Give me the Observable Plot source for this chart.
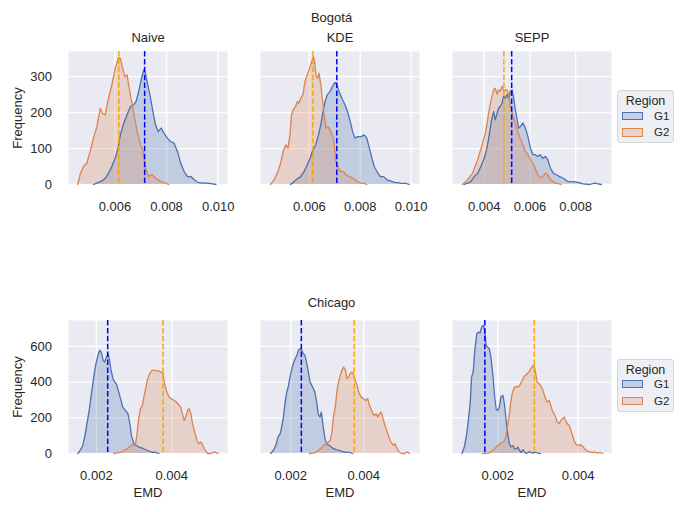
<!DOCTYPE html>
<html><head><meta charset="utf-8">
<script src="https://cdn.jsdelivr.net/npm/d3@7"></script>
<script src="https://cdn.jsdelivr.net/npm/@observablehq/plot@0.6"></script>
<style>
body{margin:0;background:#fff;}
#fig{position:relative;width:685px;height:512px;font-family:'Liberation Sans',Arial,sans-serif;color:#262626;overflow:hidden;background:#fff}
#fig svg{position:absolute;}
.legend{position:absolute;box-sizing:border-box;width:57px;height:53px;border:1px solid #d6d6d6;border-radius:3px;background:#eeeef5;}
.legend .t{position:absolute;left:0;width:100%;text-align:center;top:2px;font-size:12.5px;line-height:16px}
.legend .sw{position:absolute;left:3.5px;width:21.6px;height:8.3px;box-sizing:border-box;border:1.2px solid}
.legend .lb{position:absolute;left:36px;font-size:11.5px;line-height:14px}
</style></head>
<body><div id="fig"></div>
<script>
// ---- data ----
const methods = ["Naive", "KDE", "SEPP"];
const cities = ["Bogotá", "Chicago"];
const groups = ["G1", "G2"];

const bogNaiveG1 = [[0.00517,0],[0.0053,4],[0.00549,10],[0.00562,17],[0.00575,31],[0.00588,50],[0.00601,73],[0.00612,101],[0.00621,138],[0.00634,170],[0.00647,194],[0.0066,217],[0.00673,222],[0.00682,231],[0.00692,258],[0.00703,296],[0.00712,319],[0.00718,310],[0.00727,277],[0.00738,240],[0.00747,203],[0.00757,166],[0.00768,147],[0.00779,157],[0.0079,143],[0.00803,129],[0.00816,119],[0.00829,115],[0.00842,92],[0.00855,59],[0.00868,36],[0.00881,22],[0.00894,22],[0.00907,13],[0.0092,6],[0.00939,4],[0.00958,4],[0.00978,2],[0.00991,0]];
const bogNaiveG2 = [[0.00456,0],[0.00465,27],[0.00478,50],[0.00491,59],[0.00504,92],[0.00517,129],[0.0053,161],[0.00543,212],[0.00552,198],[0.00562,194],[0.00575,240],[0.00588,277],[0.00601,323],[0.00614,353],[0.00621,351],[0.0063,323],[0.00638,300],[0.00647,305],[0.00653,277],[0.00662,240],[0.00673,198],[0.00686,147],[0.00699,110],[0.00708,96],[0.00718,45],[0.00731,22],[0.00744,27],[0.00757,18],[0.00777,8],[0.00796,4],[0.00809,0]];
const bogKdeG1 = [[0.00526,0],[0.0054,8],[0.00553,16],[0.00566,22],[0.00579,36],[0.00592,55],[0.00603,73],[0.00612,92],[0.00625,110],[0.00636,138],[0.00645,166],[0.00654,203],[0.00662,231],[0.00671,250],[0.00682,259],[0.00691,273],[0.00701,284],[0.00708,277],[0.00717,259],[0.00728,240],[0.0074,222],[0.0075,203],[0.00761,175],[0.0077,147],[0.00779,129],[0.0079,133],[0.00803,133],[0.00816,138],[0.00826,129],[0.00836,101],[0.00846,73],[0.00855,50],[0.00866,36],[0.00879,22],[0.00892,22],[0.00905,13],[0.00918,10],[0.00934,6],[0.00947,5],[0.00963,3],[0.0098,3],[0.00993,0]];
const bogKdeG2 = [[0.00447,0],[0.00461,13],[0.00474,31],[0.00487,59],[0.00497,92],[0.00507,110],[0.00516,101],[0.00524,138],[0.0053,194],[0.00537,208],[0.00546,217],[0.00553,231],[0.00559,226],[0.00566,240],[0.00575,250],[0.00583,287],[0.00592,305],[0.00601,323],[0.00609,341],[0.00616,356],[0.00621,341],[0.00626,304],[0.00632,295],[0.00638,310],[0.00645,277],[0.00651,240],[0.00658,194],[0.00665,157],[0.00674,161],[0.00684,147],[0.00695,129],[0.00704,64],[0.00715,45],[0.00724,36],[0.00734,36],[0.00743,27],[0.00757,22],[0.0077,18],[0.00787,8],[0.00803,4],[0.00816,3],[0.00826,0]];
const bogSeppG1 = [[0.00312,0],[0.00327,4],[0.00341,8],[0.00356,22],[0.00371,31],[0.00385,50],[0.004,73],[0.00412,101],[0.00422,138],[0.00432,180],[0.00441,203],[0.00448,180],[0.00456,198],[0.00463,212],[0.0047,217],[0.00478,226],[0.00485,245],[0.00492,240],[0.005,250],[0.00507,240],[0.00514,259],[0.00522,263],[0.00529,240],[0.00536,208],[0.00544,180],[0.00551,157],[0.00558,161],[0.00569,171],[0.0058,157],[0.00591,134],[0.00602,101],[0.00613,83],[0.00624,83],[0.00634,78],[0.00645,83],[0.00656,73],[0.00668,78],[0.00678,69],[0.0069,45],[0.00703,31],[0.00715,27],[0.0073,22],[0.00744,18],[0.00766,8],[0.00788,8],[0.0081,6],[0.00832,2],[0.00862,0],[0.00884,4],[0.00898,2],[0.00913,0]];
const bogSeppG2 = [[0.00305,0],[0.00319,8],[0.00334,18],[0.00349,31],[0.0036,50],[0.00371,69],[0.00382,92],[0.00393,115],[0.00403,138],[0.00412,166],[0.00419,198],[0.00426,222],[0.00434,245],[0.00441,263],[0.00448,268],[0.00456,251],[0.00463,263],[0.0047,259],[0.00478,273],[0.00485,259],[0.00492,263],[0.005,263],[0.00507,250],[0.00514,217],[0.00525,194],[0.00535,171],[0.00547,147],[0.00557,129],[0.00569,110],[0.0058,92],[0.00591,83],[0.00602,69],[0.00613,59],[0.00623,45],[0.00634,27],[0.00645,18],[0.00656,22],[0.00668,31],[0.00678,27],[0.0069,13],[0.00703,8],[0.00715,4],[0.00737,0]];

const chiNaiveG1 = [[0.00151,0],[0.00157,17],[0.00164,45],[0.00169,92],[0.00175,166],[0.00181,241],[0.00187,335],[0.00193,428],[0.00199,503],[0.00204,548],[0.00209,578],[0.00213,568],[0.00218,522],[0.00222,512],[0.00227,540],[0.00231,559],[0.00235,522],[0.00239,465],[0.00244,419],[0.00249,400],[0.00253,391],[0.00258,353],[0.00264,307],[0.0027,260],[0.00277,241],[0.00284,222],[0.00289,166],[0.00293,101],[0.003,54],[0.00306,45],[0.00313,36],[0.00322,30],[0.00331,21],[0.0034,13],[0.00348,7],[0.00357,6],[0.00366,0]];
const chiNaiveG2 = [[0.00246,0],[0.00255,4],[0.00264,7],[0.00273,17],[0.00282,26],[0.00289,39],[0.00295,49],[0.003,45],[0.00304,54],[0.00308,110],[0.00313,204],[0.00317,251],[0.00322,269],[0.00326,316],[0.00331,363],[0.00335,410],[0.0034,438],[0.00344,456],[0.00348,466],[0.00357,466],[0.00366,462],[0.00372,456],[0.00377,447],[0.00381,391],[0.00387,344],[0.00393,316],[0.004,307],[0.00406,297],[0.00413,288],[0.0042,269],[0.00424,260],[0.00428,223],[0.00433,185],[0.00437,204],[0.00442,241],[0.00446,251],[0.00451,223],[0.00455,168],[0.00461,120],[0.00467,73],[0.00471,54],[0.00476,64],[0.0048,58],[0.00484,36],[0.00489,17],[0.00495,0],[0.00504,0],[0.00513,9],[0.00519,4],[0.00524,0]];
const chiKdeG1 = [[0.00145,0],[0.00152,17],[0.00159,45],[0.00165,92],[0.00171,110],[0.00175,148],[0.0018,204],[0.00184,279],[0.00189,344],[0.00194,381],[0.00198,428],[0.00203,475],[0.00207,503],[0.00212,531],[0.00217,550],[0.00221,578],[0.00226,587],[0.0023,578],[0.00235,559],[0.00239,550],[0.00244,503],[0.00249,447],[0.00253,400],[0.0026,372],[0.00266,344],[0.00271,288],[0.00275,223],[0.0028,204],[0.00284,232],[0.00289,148],[0.00294,82],[0.00298,54],[0.00306,45],[0.00315,30],[0.00324,22],[0.00333,17],[0.00342,11],[0.00351,7],[0.00361,6],[0.0037,0]];
const chiKdeG2 = [[0.00251,0],[0.0026,2],[0.00269,7],[0.00278,21],[0.00287,36],[0.00296,54],[0.00303,64],[0.00308,73],[0.00313,120],[0.00317,204],[0.00322,260],[0.00327,353],[0.00331,400],[0.00336,438],[0.0034,466],[0.00345,484],[0.0035,466],[0.00354,419],[0.00359,428],[0.00363,447],[0.00368,456],[0.00373,438],[0.00377,410],[0.00382,381],[0.00386,344],[0.00393,316],[0.004,307],[0.00406,297],[0.00411,307],[0.00416,269],[0.0042,251],[0.00425,223],[0.00429,213],[0.00434,223],[0.00439,204],[0.00443,223],[0.00448,232],[0.00452,204],[0.00457,166],[0.00463,129],[0.00469,92],[0.00475,64],[0.00482,45],[0.00486,54],[0.00492,26],[0.00498,7],[0.00505,0],[0.00512,0],[0.00519,9],[0.00526,0]];
const chiSeppG1 = [[0.00111,0],[0.00117,36],[0.00123,110],[0.00128,204],[0.00132,297],[0.00135,428],[0.00139,456],[0.00143,578],[0.00148,671],[0.00152,680],[0.00156,675],[0.0016,708],[0.00164,718],[0.00168,690],[0.00171,606],[0.00175,596],[0.00179,587],[0.00183,540],[0.00188,438],[0.00192,325],[0.00196,251],[0.002,241],[0.00204,260],[0.00208,316],[0.00213,325],[0.00217,269],[0.00221,185],[0.00225,110],[0.00229,54],[0.00233,36],[0.00238,45],[0.00242,26],[0.00246,26],[0.0025,36],[0.00254,17],[0.00258,7],[0.00263,21],[0.00267,7],[0.00271,0],[0.00279,11],[0.00286,2],[0.00294,7],[0.003,2],[0.00306,0]];
const chiSeppG2 = [[0.00163,0],[0.00175,2],[0.00183,7],[0.00192,26],[0.002,45],[0.00208,58],[0.00215,64],[0.00219,82],[0.00223,129],[0.00228,204],[0.00232,279],[0.00236,335],[0.0024,363],[0.00244,376],[0.00248,372],[0.00253,376],[0.00257,391],[0.00261,410],[0.00265,428],[0.00269,438],[0.00273,447],[0.00278,456],[0.00282,475],[0.00286,488],[0.0029,494],[0.00294,456],[0.00298,400],[0.00303,391],[0.00307,381],[0.00311,363],[0.00315,335],[0.00319,307],[0.00323,288],[0.00328,297],[0.00332,269],[0.00336,241],[0.0034,223],[0.00344,204],[0.00348,176],[0.00353,166],[0.00357,185],[0.00361,194],[0.00365,204],[0.00369,185],[0.00373,166],[0.00378,157],[0.00382,129],[0.00386,101],[0.0039,73],[0.00394,54],[0.004,45],[0.00407,49],[0.00413,36],[0.00418,21],[0.00425,13],[0.00433,6],[0.00442,7],[0.00448,2],[0.00454,6],[0.00461,0]];

const bogotaMeanG1 = [0.00715, 0.00708, 0.0052];
const bogotaMeanG2 = [0.00615, 0.00614, 0.00486];
const chicagoMeanG1 = [0.0023, 0.00229, 0.00168];
const chicagoMeanG2 = [0.00377, 0.00374, 0.00291];

const bogotaXTicks = [[0.006, 0.008, 0.010], [0.006, 0.008, 0.010], [0.004, 0.006, 0.008]];
const chicagoXTicks = [[0.002, 0.004], [0.002, 0.004], [0.002, 0.004]];
const bogotaYTicks = [0, 100, 200, 300];
const chicagoYTicks = [0, 200, 400, 600];

// ---- layout / style ----
const blue = "#4c72b0", orange = "#dd8452";
const txt = "#262626";
const fig = document.getElementById("fig");
const colLeft = [0, 192, 384];
const rowTop = [0, 269];
const ML = 68, MT = 51, PW = 159, PH = 133;

const rows = [
  {city: cities[0], series: [[bogNaiveG1, bogNaiveG2], [bogKdeG1, bogKdeG2], [bogSeppG1, bogSeppG2]],
   m1: bogotaMeanG1, m2: bogotaMeanG2, xticks: bogotaXTicks, yticks: bogotaYTicks,
   xdom: [[0.0042, 0.01036], [0.00408, 0.01033], [0.00261, 0.00957]], ydom: [0, 370], MB: 40, titles: true, xlabel: false, supDy: -34},
  {city: cities[1], series: [[chiNaiveG1, chiNaiveG2], [chiKdeG1, chiKdeG2], [chiSeppG1, chiSeppG2]],
   m1: chicagoMeanG1, m2: chicagoMeanG2, xticks: chicagoXTicks, yticks: chicagoYTicks,
   xdom: [[0.00126, 0.00548], [0.00117, 0.00553], [0.000875, 0.00483]], ydom: [0, 745], MB: 55, titles: false, xlabel: true, supDy: -17.5}
];

const toObj = (arr, g) => arr.map(([x, y]) => ({x, y, g}));
const T = {fill: txt, fontSize: 13, lineAnchor: "middle", textAnchor: "middle"};

rows.forEach((r, ri) => {
  methods.forEach((m, ci) => {
    const d1 = toObj(r.series[ci][0], groups[0]);
    const d2 = toObj(r.series[ci][1], groups[1]);
    const marks = [
      Plot.frame({fill: "#eaeaf2", stroke: "none"}),
      Plot.gridX({ticks: r.xticks[ci], stroke: "white", strokeOpacity: 1, strokeWidth: 1.3}),
      Plot.gridY({ticks: r.yticks, stroke: "white", strokeOpacity: 1, strokeWidth: 1.3}),
      Plot.areaY(d1, {x: "x", y: "y", fill: blue, fillOpacity: 0.25}),
      Plot.areaY(d2, {x: "x", y: "y", fill: orange, fillOpacity: 0.25}),
      Plot.lineY(d1, {x: "x", y: "y", stroke: blue, strokeWidth: 1.3}),
      Plot.lineY(d2, {x: "x", y: "y", stroke: orange, strokeWidth: 1.3}),
      Plot.ruleX([r.m1[ci]], {x: d => d, stroke: "blue", strokeWidth: 1.5, strokeDasharray: "5.5,2.4"}),
      Plot.ruleX([r.m2[ci]], {x: d => d, stroke: "orange", strokeWidth: 1.5, strokeDasharray: "5.5,2.4"}),
      Plot.axisX({ticks: r.xticks[ci], tickSize: 0, tickPadding: 17.5, tickFormat: d3.format(".3f"), label: null, fill: txt})
    ];
    if (ci === 0) {
      marks.push(Plot.axisY({ticks: r.yticks, tickSize: 0, tickPadding: 16.5, label: null, fill: txt}));
      marks.push(Plot.text(["Frequency"], {...T, text: d => d, frameAnchor: "left", dx: -51, rotate: -90}));
    }
    if (r.titles) marks.push(Plot.text([m], {...T, text: d => d, frameAnchor: "top", dy: -14}));
    if (r.xlabel) marks.push(Plot.text(["EMD"], {...T, text: d => d, frameAnchor: "bottom", dy: 39.5}));
    if (ci === 1) marks.push(Plot.text([r.city], {...T, text: d => d, frameAnchor: "top", dy: r.supDy, dx: -8.5}));
    const svg = Plot.plot({
      width: ML + PW + 8, height: MT + PH + r.MB,
      marginLeft: ML, marginRight: 8, marginTop: MT, marginBottom: r.MB,
      x: {domain: r.xdom[ci], axis: null},
      y: {domain: r.ydom, axis: null},
      style: {background: "transparent", overflow: "visible", fontFamily: "'Liberation Sans', Arial, sans-serif", fontSize: "13px", color: txt},
      marks
    });
    svg.style.left = colLeft[ci] + "px";
    svg.style.top = rowTop[ri] + "px";
    svg.style.maxWidth = "none";
    fig.appendChild(svg);
  });
});

// legends
function legend(top) {
  const L = document.createElement("div");
  L.className = "legend";
  L.style.left = "617px"; L.style.top = top + "px";
  const t = document.createElement("div"); t.className = "t"; t.textContent = "Region"; L.appendChild(t);
  [[groups[0], blue, 20.7], [groups[1], orange, 37.3]].forEach(([g, c, y]) => {
    const s = document.createElement("div"); s.className = "sw";
    s.style.top = y + "px"; s.style.borderColor = c;
    s.style.background = d3.color(c).copy({opacity: 0.25}).toString();
    L.appendChild(s);
    const lb = document.createElement("div"); lb.className = "lb"; lb.textContent = g;
    lb.style.top = (y - 3) + "px"; L.appendChild(lb);
  });
  fig.appendChild(L);
}
legend(90);
legend(358.5);
</script></body></html>
